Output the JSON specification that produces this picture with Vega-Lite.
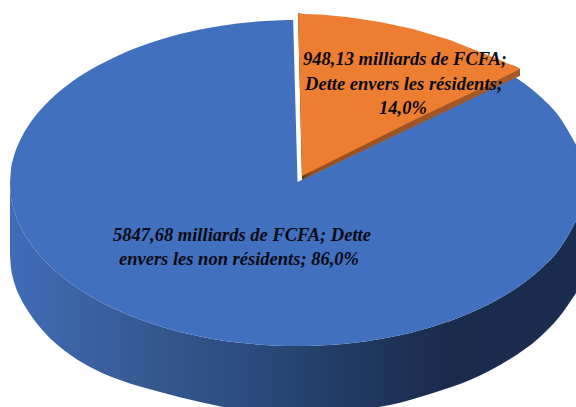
{"$schema":"https://vega.github.io/schema/vega-lite/v6.json","width":576,"height":407,"padding":0,"autosize":{"type":"fit","contains":"padding"},"background":"white","config":{"view":{"stroke":null}},
"layer":[
{"data":{"values":[{"x":10,"y":183,"y2":256},{"x":11,"y":196.6,"y2":268},{"x":13,"y":206.5,"y2":278},{"x":16,"y":216.2,"y2":288},{"x":20,"y":225.6,"y2":297},{"x":30,"y":242.8,"y2":314},{"x":45,"y":261,"y2":333},{"x":65,"y":279,"y2":351},{"x":90,"y":295.9,"y2":367},{"x":120,"y":311.3,"y2":380},{"x":160,"y":326.2,"y2":392},{"x":200,"y":336.4,"y2":402},{"x":250,"y":343.8,"y2":411},{"x":297,"y":346,"y2":413},{"x":340,"y":344.2,"y2":411},{"x":390,"y":337.2,"y2":405},{"x":430,"y":327.4,"y2":394},{"x":470,"y":313,"y2":380},{"x":510,"y":292.2,"y2":359},{"x":540,"y":269.7,"y2":337},{"x":560,"y":248.3,"y2":316},{"x":576,"y":221.2,"y2":293}]},
"mark":{"type":"area","clip":true,"interpolate":"monotone","color":{"gradient":"linear","x1":0,"y1":0,"x2":1,"y2":0,"stops":[{"offset":0,"color":"#406cb8"},{"offset":0.25,"color":"#35588f"},{"offset":0.43,"color":"#2c4a7e"},{"offset":0.51,"color":"#274370"},{"offset":0.69,"color":"#1d3156"},{"offset":0.78,"color":"#1a2c4c"},{"offset":1,"color":"#1a2d50"}]}},
"encoding":{"x":{"field":"x","type":"quantitative","scale":{"domain":[0,576]},"axis":null},"y":{"field":"y","type":"quantitative","scale":{"domain":[407,0]},"axis":null},"y2":{"field":"y2"}}},
{"data":{"values":[{"x":10,"y":183,"y2":183},{"x":11,"y":196.6,"y2":169.4},{"x":13,"y":206.5,"y2":159.5},{"x":16,"y":216.2,"y2":149.8},{"x":20,"y":225.6,"y2":140.4},{"x":30,"y":242.8,"y2":123.2},{"x":45,"y":261,"y2":105},{"x":65,"y":279,"y2":87},{"x":90,"y":295.9,"y2":70.1},{"x":120,"y":311.3,"y2":54.7},{"x":160,"y":326.2,"y2":39.8},{"x":200,"y":336.4,"y2":29.6},{"x":250,"y":343.8,"y2":22.2},{"x":297,"y":346,"y2":20},{"x":340,"y":344.2,"y2":21.8},{"x":390,"y":337.2,"y2":28.8},{"x":430,"y":327.4,"y2":38.6},{"x":470,"y":313,"y2":53},{"x":510,"y":292.2,"y2":73.8},{"x":540,"y":269.7,"y2":96.3},{"x":560,"y":248.3,"y2":117.7},{"x":576,"y":221.2,"y2":144.8}]},
"mark":{"type":"area","clip":true,"interpolate":"monotone","color":"#4170bf"},
"encoding":{"x":{"field":"x","type":"quantitative","scale":{"domain":[0,576]},"axis":null},"y":{"field":"y","type":"quantitative","scale":{"domain":[407,0]},"axis":null},"y2":{"field":"y2"}}},
{"data":{"values":[{"x":293,"y":0,"y2":15},{"x":297.5,"y":0,"y2":182},{"x":515,"y":0,"y2":77},{"x":522,"y":0,"y2":77}]},
"mark":{"type":"area","clip":true,"color":"white"},
"encoding":{"x":{"field":"x","type":"quantitative","scale":{"domain":[0,576]},"axis":null},"y":{"field":"y","type":"quantitative","scale":{"domain":[407,0]},"axis":null},"y2":{"field":"y2"}}},
{"data":{"values":[{"x":298,"y":13,"y2":13},{"x":302,"y":14,"y2":180},{"x":515,"y":66,"y2":78},{"x":520,"y":69,"y2":76}]},
"mark":{"type":"area","clip":true,"color":{"gradient":"linear","x1":0,"y1":0,"x2":1,"y2":0,"stops":[{"offset":0,"color":"#5c3413"},{"offset":0.02,"color":"#663a16"},{"offset":0.06,"color":"#95501f"},{"offset":1,"color":"#a8592a"}]}},
"encoding":{"x":{"field":"x","type":"quantitative","scale":{"domain":[0,576]},"axis":null},"y":{"field":"y","type":"quantitative","scale":{"domain":[407,0]},"axis":null},"y2":{"field":"y2"}}},
{"data":{"values":[{"x":298,"y":13,"y2":13},{"x":302,"y":14,"y2":176},{"x":320,"y":14.5,"y2":167},{"x":347,"y":17,"y2":153.5},{"x":380,"y":22,"y2":137},{"x":413,"y":29,"y2":120.5},{"x":450,"y":40,"y2":103},{"x":480,"y":52,"y2":89},{"x":500,"y":60,"y2":79},{"x":520,"y":69,"y2":69}]},
"mark":{"type":"area","clip":true,"color":"#ed7d31"},
"encoding":{"x":{"field":"x","type":"quantitative","scale":{"domain":[0,576]},"axis":null},"y":{"field":"y","type":"quantitative","scale":{"domain":[407,0]},"axis":null},"y2":{"field":"y2"}}},
{"data":{"values":[{"x":405,"y":59,"label":"948,13 milliards de FCFA;"},{"x":404,"y":84,"label":"Dette envers les résidents;"},{"x":403,"y":108,"label":"14,0%"},{"x":242,"y":235,"label":"5847,68 milliards de FCFA;  Dette"},{"x":239,"y":259,"label":"envers les non résidents; 86,0%"}]},
"mark":{"type":"text","font":"Liberation Serif","fontSize":18.5,"fontWeight":"bold","fontStyle":"italic","color":"#0a0a14","align":"center","baseline":"middle"},
"encoding":{"x":{"field":"x","type":"quantitative","scale":{"domain":[0,576]},"axis":null},"y":{"field":"y","type":"quantitative","scale":{"domain":[407,0]},"axis":null},"text":{"field":"label"}}}
]}
